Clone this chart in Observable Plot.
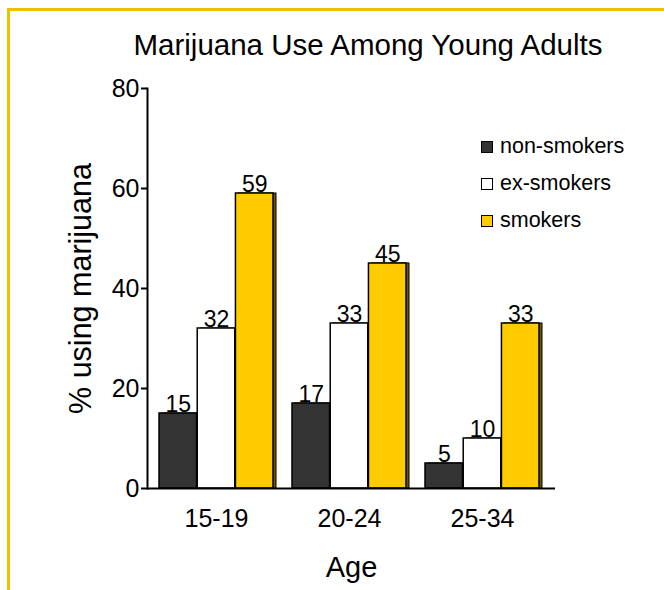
<!DOCTYPE html>
<html>
<head>
<meta charset="utf-8">
<script src="https://cdn.jsdelivr.net/npm/d3@7"></script>
<script src="https://cdn.jsdelivr.net/npm/@observablehq/plot@0.6"></script>
<style>
  html, body { margin: 0; padding: 0; background: #fff; }
  #wrap { position: relative; width: 664px; height: 590px; overflow: hidden; background: #fff;
          font-family: "Liberation Sans", Arial, sans-serif; }
  #border { position: absolute; left: 7px; top: 8px; width: 800px; height: 800px;
            border-top: 3px solid #F2BF00; border-left: 3px solid #F2BF00; box-sizing: border-box; }
  #title { position: absolute; left: 0; width: 736px; top: 26px; text-align: center; margin: 0;
           font-size: 29.5px; font-weight: normal; line-height: 38px; color: #000; }
  #chart { position: absolute; left: 0; top: 0; }
  #legend { position: absolute; left: 481px; top: 128px; }
  .item { display: flex; align-items: center; height: 37px; font-size: 21.5px; color: #000; }
  .sw { width: 10px; height: 10px; border: 1.5px solid #000; margin-right: 7px; flex: none; }
</style>
</head>
<body>
<div id="wrap">
  <div id="border"></div>
  <div id="chart"></div>
  <h1 id="title">Marijuana Use Among Young Adults</h1>
  <div id="legend"></div>
</div>
<script>
const ages = ["15-19", "20-24", "25-34"];
const groups = ["non-smokers", "ex-smokers", "smokers"];
const nonSmokers = [15, 17, 5];
const exSmokers = [32, 33, 10];
const smokers = [59, 45, 33];
const yTicks = [0, 20, 40, 60, 80];
const colors = ["#333333", "#ffffff", "#ffcc00"];
const shadowColors = ["#111111", "#111111", "#6b5800"];

const series = [nonSmokers, exSmokers, smokers];
const data = ages.flatMap((age, i) => groups.map((group, j) => ({age, group, j, value: series[j][i]})));

const W = 664, H = 590;
const mL = 147, mR = 109, mT = 88, mB = 102;
const xOpts = {domain: ages, paddingInner: 0.14, paddingOuter: 0.1, align: 0.45};
const B = d3.scaleBand().domain(ages).range([mL, W - mR])
  .paddingInner(xOpts.paddingInner).paddingOuter(xOpts.paddingOuter).align(xOpts.align).bandwidth();
const third = B / 3;
const font = '"Liberation Sans", Arial, sans-serif';

const marks = [];
groups.forEach((g, j) => {
  const sub = data.filter(d => d.group === g);
  marks.push(Plot.barY(sub, {x: "age", y: "value", fill: shadowColors[j], stroke: "#000", strokeWidth: 1,
    insetLeft: j * third, insetRight: (2 - j) * third, dx: 3}));
});
groups.forEach((g, j) => {
  const sub = data.filter(d => d.group === g);
  marks.push(Plot.barY(sub, {x: "age", y: "value", fill: colors[j], stroke: "#000", strokeWidth: 1.5,
    insetLeft: j * third, insetRight: (2 - j) * third}));
  marks.push(Plot.text(sub, {x: "age", y: "value", text: d => String(d.value), dx: (j - 1) * third,
    dy: -2, lineAnchor: "bottom", fontSize: 23, fill: "#000"}));
});

const chart = Plot.plot({
  width: W, height: H,
  marginLeft: mL, marginRight: mR, marginTop: mT, marginBottom: mB,
  style: {fontFamily: font, background: "transparent", color: "#000"},
  x: {...xOpts, label: null},
  y: {domain: [0, 80], label: null},
  marks: [
    ...marks,
    Plot.ruleY([0], {stroke: "#000", strokeWidth: 2}),
    Plot.frame({anchor: "left", stroke: "#000", strokeWidth: 2}),
    Plot.axisY({ticks: yTicks, tickSize: 6, tickPadding: 2, fontSize: 25, label: null, strokeWidth: 2}),
    Plot.axisX({tickSize: 0, tickPadding: 21, fontSize: 25, label: null}),
    Plot.text(["% using marijuana"], {text: d => d, frameAnchor: "left", rotate: -90, dx: -66,
      textAnchor: "middle", lineAnchor: "middle", fontSize: 30.5}),
    Plot.text(["Age"], {text: d => d, frameAnchor: "bottom", dy: 79, textAnchor: "middle",
      lineAnchor: "middle", fontSize: 29})
  ]
});
document.getElementById("chart").appendChild(chart);

const legend = document.getElementById("legend");
groups.forEach((g, j) => {
  const it = document.createElement("div");
  it.className = "item";
  const sw = document.createElement("span");
  sw.className = "sw";
  sw.style.background = colors[j];
  const lab = document.createElement("span");
  lab.textContent = g;
  it.appendChild(sw); it.appendChild(lab);
  legend.appendChild(it);
});
</script>
</body>
</html>
